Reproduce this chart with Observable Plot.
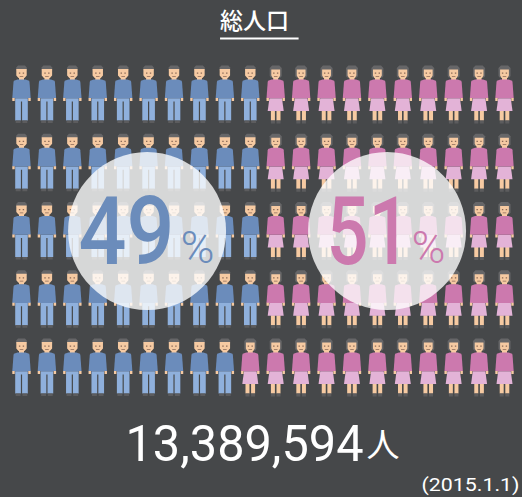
<!DOCTYPE html>
<html lang="ja">
<head>
<meta charset="utf-8">
<script src="https://cdn.jsdelivr.net/npm/d3@7"></script>
<script src="https://cdn.jsdelivr.net/npm/@observablehq/plot@0.6"></script>
<style>
html,body{margin:0;padding:0;background:#46484a;}
svg{display:block;}
</style>
</head>
<body>
<div id="chart"></div>
<script>
const menPerRow = [10, 10, 10, 10, 9];
const peoplePerRow = 20;
const malePercent = "49";
const femalePercent = "51";
const titleText = "総人口";
const totalText = "13,389,594";
const totalUnit = "人";
const dateText = "(2015.1.1)";

const bg = "#46484a", blue = "#6b8cbb", ltBlue = "#8fb0dc", pink = "#cc79ae",
      ltPink = "#e3b3d7", skin = "#f6caa2", hair = "#666668", shoe = "#5c5c5e", face = "#8a6a58";

const men = [], women = [];
menPerRow.forEach((m, row) => {
  d3.range(peoplePerRow).forEach(col => (col < m ? men : women).push({col, row}));
});

const shape = polys => ({
  draw(c) {
    for (const p of polys) {
      p.forEach(([x, y], i) => i ? c.lineTo(x, y) : c.moveTo(x, y));
      c.closePath();
    }
  }
});
const box = (x0, y0, x1, y1) => [[x0, y0], [x1, y0], [x1, y1], [x0, y1]];
// figure outlines, relative to the middle of a figure
const manHair = shape([[[-5.3,-24],[-5.3,-27],[-3.5,-29],[3.5,-29],[5.3,-27],[5.3,-24]]]);
const womanHair = shape([[[-5,-17],[-6,-18.5],[-6,-26.5],[-3.6,-29],[3.6,-29],[6,-26.5],[6,-18.5],[5,-17]]]);
const manHead = shape([[[-5.2,-25.5],[5.2,-25.5],[5.2,-19],[3,-16.5],[-3,-16.5],[-5.2,-19]], box(-2.5,-17,2.5,-14.5)]);
const womanHead = shape([[[-4.4,-25],[4.4,-25],[4.4,-19],[3,-16.5],[-3,-16.5],[-4.4,-19]], box(-2.5,-17,2.5,-14.5)]);
const hands = shape([box(-9.2,3.5,-6.8,6.5), box(6.8,3.5,9.2,6.5)]);
const legsSkin = shape([box(-4.8,16,-0.8,26), box(0.8,16,4.8,26)]);
const sweater = shape([[[-4,-15],[4,-15],[7.6,-13.8],[8,-12.5],[9.2,3.7],[-9.2,3.7],[-8,-12.5],[-7.6,-13.8]]]);
const trousers = shape([[[-6.3,3.7],[6.3,3.7],[6.3,26],[0.6,26],[0.6,7],[-0.6,7],[-0.6,26],[-6.3,26]]]);
const skirt = shape([[[-6.3,3.7],[6.3,3.7],[8,16.5],[-8,16.5]]]);
const manShoes = shape([box(-5.8,26,-0.9,28.5), box(0.9,26,5.8,28.5)]);
const womanShoes = shape([box(-4.8,26,-0.8,29), box(0.8,26,4.8,29)]);
const faceMarks = shape([box(-2.6,-22,-1.2,-20.8), box(1.2,-22,2.6,-20.8), box(-1.8,-18.6,1.8,-17.8)]);

const part = (data, symbol, fill) => Plot.dot(data, {x: "col", y: "row", symbol, fill, stroke: null, r: 5});
const fitted = w => (i, s, v, d, c, next) => {
  const g = next(i, s, v, d, c);
  g.querySelectorAll("text").forEach(t => {
    t.setAttribute("textLength", w);
    t.setAttribute("lengthAdjust", "spacingAndGlyphs");
  });
  return g;
};
const label = (text, dx, dy, o, w) => Plot.text([text], {
  frameAnchor: "top-left", dx, dy, text: d => d, fontFamily: "Roboto, sans-serif", lineAnchor: "middle", textAnchor: "start",
  ...(w ? {render: fitted(w)} : {}), ...o
});

const plot = Plot.plot({
  width: 522, height: 497, margin: 0,
  style: {background: bg, overflow: "visible"},
  x: {domain: [0, 19], range: [21, 504], axis: null},
  y: {domain: [0, 4], range: [94, 367], axis: null},
  marks: [
    part(men, manHair, hair),
    part(men, manHead, skin),
    part(men, trousers, ltBlue),
    part(men, manShoes, shoe),
    part(men, sweater, blue),
    part(men, hands, skin),
    part(men, faceMarks, face),
    part(women, womanHair, hair),
    part(women, womanHead, skin),
    part(women, legsSkin, skin),
    part(women, womanShoes, shoe),
    part(women, skirt, ltPink),
    part(women, sweater, pink),
    part(women, hands, skin),
    part(women, faceMarks, face),
    Plot.dot([{col: 4.94, row: 2}, {col: 14.38, row: 2}], {x: "col", y: "row", r: 79, fill: "#fff", fillOpacity: 0.78, stroke: null}),
    label(malePercent, 78, 233, {fontSize: 94, fill: blue, fontWeight: 500}, 96),
    label("%", 180, 248, {fontSize: 44, fill: blue, fontWeight: 300}, 34),
    label(femalePercent, 326, 233, {fontSize: 94, fill: pink, fontWeight: 500}, 84),
    label("%", 411, 248, {fontSize: 44, fill: pink, fontWeight: 300}, 34),
    label(titleText, 219.5, 21, {fontSize: 23, fill: "#fff", fontFamily: "'Noto Sans CJK JP', sans-serif", fontWeight: 500, letterSpacing: "5px"}),
    Plot.ruleY([-0.82], {x1: 7.83, x2: 10.92, stroke: "#fff", strokeWidth: 2}),
    label(totalText, 125, 444, {fontSize: 50, fill: "#fff", fontWeight: 400}, 238),
    label(totalUnit, 366, 446, {fontSize: 33, fill: "#fff", fontFamily: "'Noto Sans CJK JP', sans-serif"}),
    label(dateText, 421, 485, {fontSize: 18, fill: "#fff"}, 98)
  ]
});
document.getElementById("chart").append(plot);
</script>
</body>
</html>
